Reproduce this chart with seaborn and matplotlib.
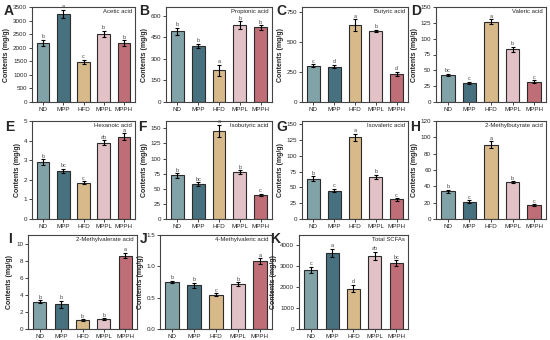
import matplotlib
matplotlib.use('Agg')
import matplotlib.pyplot as plt
import pandas as pd
import seaborn as sns

groups = ['ND', 'MPP', 'HFD', 'MPPL', 'MPPH']
colors = ['#7aa8ae', '#3e7588', '#e5bd7d', '#e7bcc4', '#cd5f6b']

acetic = [2180, 3250, 1480, 2500, 2160]
acetic_sd = [120, 150, 80, 120, 110]
acetic_sig = ['b', 'a', 'c', 'b', 'b']

propionic = [490, 390, 220, 535, 518]
propionic_sd = [25, 15, 40, 25, 15]
propionic_sig = ['b', 'b', 'a', 'b', 'b']

butyric = [300, 295, 640, 590, 235]
butyric_sd = [12, 15, 50, 10, 15]
butyric_sig = ['c', 'd', 'a', 'b', 'd']

valeric = [43, 30, 127, 83, 32]
valeric_sd = [2, 2, 4, 4, 2]
valeric_sig = ['bc', 'c', 'a', 'b', 'c']

hexanoic = [2.9, 2.45, 1.85, 3.9, 4.2]
hexanoic_sd = [0.15, 0.12, 0.08, 0.12, 0.18]
hexanoic_sig = ['b', 'bc', 'c', 'ab', 'a']

isobutyric = [72, 58, 146, 78, 40]
isobutyric_sd = [4, 3, 10, 3, 2]
isobutyric_sig = ['b', 'bc', 'a', 'b', 'c']

isovaleric = [64, 45, 129, 67, 31]
isovaleric_sd = [4, 3, 6, 3, 2]
isovaleric_sig = ['b', 'c', 'a', 'b', 'c']

methylbutyrate = [34, 21, 91, 45, 17]
methylbutyrate_sd = [2, 2, 4, 1, 1]
methylbutyrate_sig = ['b', 'c', 'a', 'b', 'c']

methylvalerate = [3.2, 2.9, 1.05, 1.15, 8.6]
methylvalerate_sd = [0.15, 0.4, 0.1, 0.1, 0.3]
methylvalerate_sig = ['b', 'b', 'b', 'b', 'a']

methylvaleric4 = [0.75, 0.70, 0.55, 0.72, 1.08]
methylvaleric4_sd = [0.02, 0.04, 0.02, 0.03, 0.05]
methylvaleric4_sig = ['b', 'b', 'c', 'b', 'a']

total = [2820, 3650, 1930, 3500, 3150]
total_sd = [150, 200, 180, 200, 150]
total_sig = ['c', 'a', 'd', 'ab', 'bc']

panels = [
    ('A', 'Acetic acid', acetic, acetic_sd, acetic_sig, 3500, 500),
    ('B', 'Propionic acid', propionic, propionic_sd, propionic_sig, 660, 150),
    ('C', 'Butyric acid', butyric, butyric_sd, butyric_sig, 790, 250),
    ('D', 'Valeric acid', valeric, valeric_sd, valeric_sig, 150, 25),
    ('E', 'Hexanoic acid', hexanoic, hexanoic_sd, hexanoic_sig, 5, 1),
    ('F', 'Isobutyric acid', isobutyric, isobutyric_sd, isobutyric_sig, 162, 25),
    ('G', 'Isovaleric acid', isovaleric, isovaleric_sd, isovaleric_sig, 155, 25),
    ('H', '2-Methylbutyrate acid', methylbutyrate, methylbutyrate_sd, methylbutyrate_sig, 120, 20),
    ('I', '2-Methylvalerate acid', methylvalerate, methylvalerate_sd, methylvalerate_sig, 11, 2),
    ('J', '4-Methylvaleric acid', methylvaleric4, methylvaleric4_sd, methylvaleric4_sig, 1.5, 0.5),
    ('K', 'Total SCFAs', total, total_sd, total_sig, 4500, 1000),
]

# axes boxes in pixels: (left, right) per row/column, (top, bottom) per row
col_lr = [
    [(32, 135), (166, 272), (302, 408), (436, 546)],
    [(32, 135), (166, 272), (302, 408), (436, 546)],
    [(28, 137), (160, 272), (299, 408)],
]
rows = [(7, 102), (121, 219), (235, 329)]
letter_x = [[4, 139, 276, 411], [5, 138, 276, 410], [8, 140, 270]]
letter_y = [11, 127, 239]
W, H = 550, 340

sns.set_style('ticks')
plt.rcParams['font.family'] = ['Liberation Sans', 'DejaVu Sans']

fig = plt.figure(figsize=(5.5, 3.4), dpi=100)

for k, (letter, name, vals, sds, sig, ymax, step) in enumerate(panels):
    r, c = divmod(k, 4)
    l, rr = col_lr[r][c]
    t, b = rows[r]
    ax = fig.add_axes([l / W, 1 - b / H, (rr - l) / W, (b - t) / H])
    df = pd.DataFrame({'group': groups, 'value': vals})
    sns.barplot(data=df, x='group', y='value', hue='group', palette=colors,
                legend=False, width=0.62, edgecolor='#2b2b2b', linewidth=0.8,
                errorbar=None, ax=ax)
    ax.errorbar(range(5), vals, yerr=sds, fmt='none', ecolor='black',
                elinewidth=0.8, capsize=1.5, capthick=0.8)
    for i in range(5):
        ax.text(i, vals[i] + sds[i] + ymax * 0.005, sig[i], ha='center',
                va='bottom', fontsize=4.0, color='#444444')
    ax.set_ylim(0, ymax)
    ticks = []
    v = 0
    while v <= ymax + 1e-9:
        ticks.append(round(v, 3))
        v += step
    ax.set_yticks(ticks)
    if step < 1:
        ax.set_yticklabels([f'{t:.1f}' for t in ticks])
    ax.set_xlim(-0.55, 4.55)
    ax.set_xlabel('')
    ax.set_ylabel('Contents (mg/g)', fontsize=5, fontweight='bold', labelpad=2)
    ax.tick_params(axis='both', labelsize=4.5, length=2, width=0.6, pad=1.5)
    for s in ax.spines.values():
        s.set_linewidth(0.8)
        s.set_color('#444444')
    ax.text(0.97, 0.98, name, transform=ax.transAxes, ha='right', va='top',
            fontsize=4.3)
    fig.text(letter_x[r][c] / W, 1 - letter_y[r] / H, letter, fontsize=10,
             fontweight='bold', va='center', ha='left')

fig.savefig('out.png', dpi=100)
